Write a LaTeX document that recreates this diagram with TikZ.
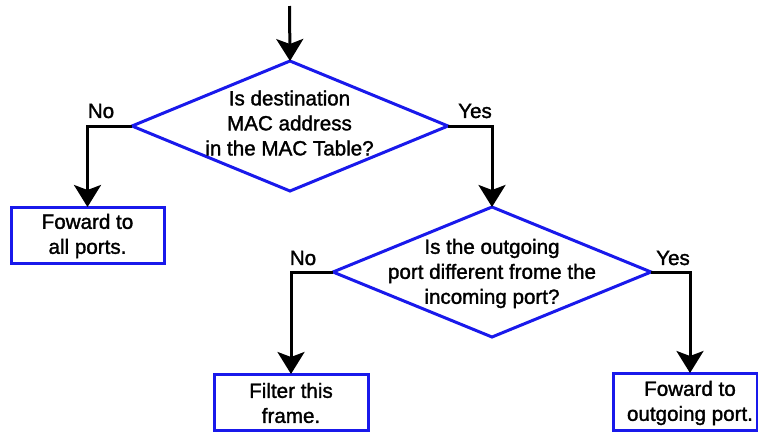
\documentclass[tikz,border=0pt]{standalone}
\usepackage{fontspec}
\setmainfont{Liberation Sans}[FakeBold=1.5]
\usetikzlibrary{shapes.geometric,arrows.meta}
\definecolor{bblue}{RGB}{25,25,235}
\begin{document}
\begin{tikzpicture}[x=1pt,y=-1pt,
  dec/.style={diamond,draw=bblue,line width=3pt,inner sep=0pt,outer sep=0pt},
  act/.style={rectangle,draw=bblue,line width=3pt,inner sep=0pt,outer sep=0pt},
  txt/.style={align=center,inner sep=0pt,font=\fontsize{20.6}{25}\selectfont},
  lbl/.style={inner sep=0pt,font=\fontsize{20.6}{25}\selectfont},
  arr/.style={draw=black,line width=3pt,-{Stealth[length=22pt,width=27pt,inset=5pt]}}]
\useasboundingbox (0,0) rectangle (758,432);
\coordinate (s) at (289.5,6);
\node[dec,minimum width=316pt,minimum height=130pt] (d1) at (290,126) {};
\node[txt] (t1) at (289.5,123) {Is destination\\MAC address\\in the MAC Table?};
\node[dec,minimum width=318pt,minimum height=130pt] (d2) at (492,272) {};
\node[txt] (t2) at (492,273.5) {Is the outgoing\\port different frome the\\incoming port?};
\node[act,minimum width=153pt,minimum height=56pt] (b1) at (87.5,235) {};
\node[txt] (tb1) at (87.5,236) {Foward to\\all ports.};
\node[act,minimum width=154pt,minimum height=56pt] (b2) at (291,402) {};
\node[txt] (tb2) at (291,403) {Filter this\\frame.};
\node[act,minimum width=144pt,minimum height=57pt] (b3) at (685,401.5) {};
\node[txt] (tb3) at (690,403) {Foward to\\outgoing port.};
\node[lbl] (n1) at (101,111) {No};
\node[lbl] (y1) at (475,111) {Yes};
\node[lbl] (n2) at (303,258) {No};
\node[lbl] (y2) at (673,258) {Yes};
\draw[arr] (s) -- (d1.north);
\draw[arr] (d1.west) -| (b1.north);
\draw[arr] (d1.east) -| (d2.north);
\draw[arr] (d2.west) -| (b2.north);
\draw[arr] (d2.east) -| (tb3 |- b3.north);
\end{tikzpicture}
\end{document}
